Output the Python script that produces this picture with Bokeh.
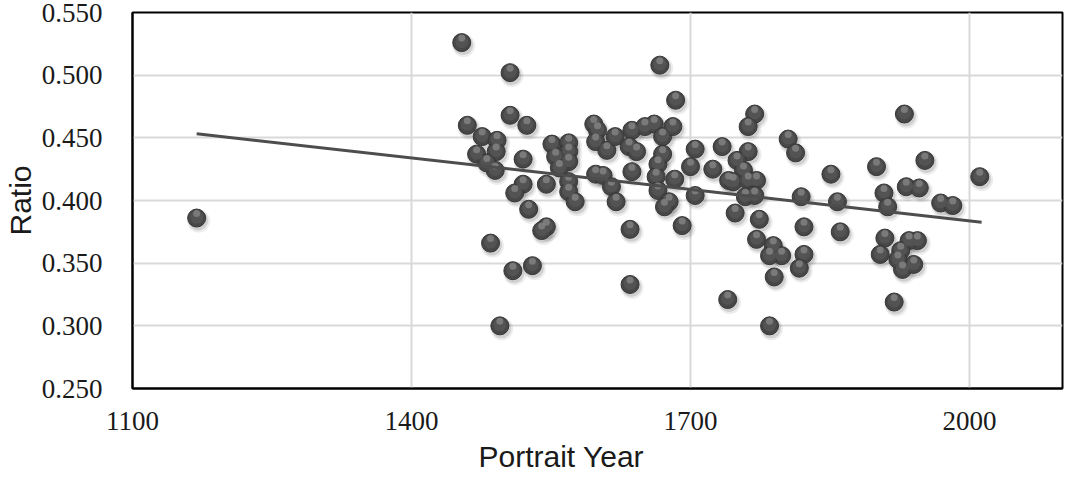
from bokeh.plotting import figure
from bokeh.models import FixedTicker, NumeralTickFormatter, Title, Range1d
from bokeh.embed import file_html
from bokeh.resources import INLINE

# ---- data ----
portrait_year = [
    1169, 1454, 1506, 1506, 1524, 1460, 1476, 1492, 1491, 1470, 1490, 1481,
    1520, 1551, 1569, 1569, 1555, 1569, 1559, 1520, 1511, 1545, 1569, 1569,
    1576, 1526, 1545, 1540, 1485, 1530, 1509, 1495,
    1598, 1606, 1615, 1620, 1596, 1600, 1598, 1610, 1619, 1637, 1634, 1642,
    1651, 1661, 1670, 1681, 1665, 1670, 1637, 1663, 1683, 1665, 1677, 1672,
    1635, 1691, 1635, 1700, 1705, 1667, 1684, 1705, 1734, 1724, 1741,
    1769, 1762, 1805, 1813, 1762, 1750, 1757, 1746, 1762, 1771, 1759, 1769,
    1819, 1858, 1851, 1748, 1774, 1822, 1861, 1771, 1789, 1798, 1785, 1822,
    1817, 1790, 1740, 1785,
    1930, 1900, 1952, 2011, 1932, 1946, 1908, 1912, 1969, 1982, 1909, 1904,
    1944, 1935, 1926, 1928, 1940, 1923, 1919,
]
ratio = [
    0.386, 0.526, 0.502, 0.468, 0.460, 0.460, 0.451, 0.448, 0.439, 0.437, 0.424, 0.430,
    0.433, 0.445, 0.446, 0.439, 0.435, 0.431, 0.426, 0.413, 0.406, 0.413, 0.415, 0.407,
    0.399, 0.393, 0.379, 0.376, 0.366, 0.348, 0.344, 0.300,
    0.421, 0.420, 0.411, 0.399, 0.461, 0.456, 0.447, 0.440, 0.451, 0.456, 0.443, 0.439,
    0.459, 0.461, 0.451, 0.459, 0.429, 0.437, 0.423, 0.419, 0.417, 0.408, 0.399, 0.395,
    0.377, 0.380, 0.333, 0.427, 0.404, 0.508, 0.480, 0.441, 0.443, 0.425, 0.416,
    0.469, 0.459, 0.449, 0.438, 0.439, 0.432, 0.424, 0.415, 0.416, 0.416, 0.403, 0.404,
    0.403, 0.399, 0.421, 0.390, 0.385, 0.379, 0.375, 0.369, 0.364, 0.356, 0.356, 0.357,
    0.346, 0.339, 0.321, 0.300,
    0.469, 0.427, 0.432, 0.419, 0.411, 0.410, 0.406, 0.395, 0.398, 0.396, 0.370, 0.357,
    0.368, 0.368, 0.360, 0.345, 0.349, 0.353, 0.319,
]
trend_year = [1169, 2013]
trend_ratio = [0.4533, 0.3827]

x_ticks = [1100, 1400, 1700, 2000]
y_ticks = [0.25, 0.30, 0.35, 0.40, 0.45, 0.50, 0.55]
x_title = "Portrait Year"
y_title = "Ratio"

# ---- layout ----
W, H = 1064, 478
B_LEFT, B_RIGHT, B_TOP, B_BOTTOM = 126, 2, 12, 90
X0, X1 = 1100, 2100
Y0, Y1 = 0.25, 0.55

p = figure(width=W, height=H, output_backend="svg", toolbar_location=None,
           x_range=Range1d(X0, X1), y_range=Range1d(Y0, Y1),
           min_border_left=B_LEFT, min_border_right=B_RIGHT,
           min_border_top=B_TOP, min_border_bottom=B_BOTTOM)
p.background_fill_color = "white"
p.border_fill_color = "white"
p.outline_line_color = "black"
p.outline_line_width = 2

fw = W - B_LEFT - B_RIGHT
fh = H - B_TOP - B_BOTTOM
dxp = (X1 - X0) / fw      # data units per screen px
dyp = (Y1 - Y0) / fh

def shift(vals, d):
    return [v + d for v in vals]

# soft shadows
p.scatter(shift(portrait_year, 2 * dxp), shift(ratio, -3 * dyp), size=23,
          fill_color="#000000", fill_alpha=0.07, line_color=None)
p.scatter(shift(portrait_year, 1.5 * dxp), shift(ratio, -2.5 * dyp), size=20,
          fill_color="#000000", fill_alpha=0.12, line_color=None)
# sphere body
p.scatter(portrait_year, ratio, size=18, fill_color="#474747",
          line_color="#363636", line_width=1)
p.scatter(portrait_year, shift(ratio, 1 * dyp), size=13, fill_color="#535353",
          line_color=None)
# top highlight
p.scatter(portrait_year, shift(ratio, 4.5 * dyp), size=7, fill_color="#858585",
          fill_alpha=0.8, line_color=None)

# trendline
p.line(trend_year, trend_ratio, line_color="#4d4d4d", line_width=3)

# axes
p.xaxis.ticker = FixedTicker(ticks=x_ticks)
p.yaxis.ticker = FixedTicker(ticks=y_ticks)
p.yaxis.formatter = NumeralTickFormatter(format="0.000")
for ax in (p.xaxis[0], p.yaxis[0]):
    ax.axis_line_color = "black"
    ax.axis_line_width = 2
    ax.major_tick_line_color = None
    ax.minor_tick_line_color = None
    ax.major_label_text_font = "Liberation Serif"
    ax.major_label_text_font_size = "27px"
    ax.major_label_text_color = "#1a1a1a"
p.yaxis.major_label_standoff = 24
p.xaxis.major_label_standoff = 17

p.yaxis.axis_label = y_title
p.yaxis.axis_label_text_font = "Liberation Sans"
p.yaxis.axis_label_text_font_size = "30px"
p.yaxis.axis_label_text_font_style = "normal"
p.yaxis.axis_label_text_color = "#1a1a1a"
p.yaxis.axis_label_standoff = 2

p.add_layout(Title(text=x_title, align="left", offset=346,
                   text_font="Liberation Sans", text_font_size="30px",
                   text_font_style="normal", text_color="#1a1a1a", standoff=11),
             "below")

p.xgrid.grid_line_color = "#d9d9d9"
p.xgrid.grid_line_width = 2
p.ygrid.grid_line_color = "#d9d9d9"
p.ygrid.grid_line_width = 2

open("out.html", "w").write(file_html(p, INLINE))
